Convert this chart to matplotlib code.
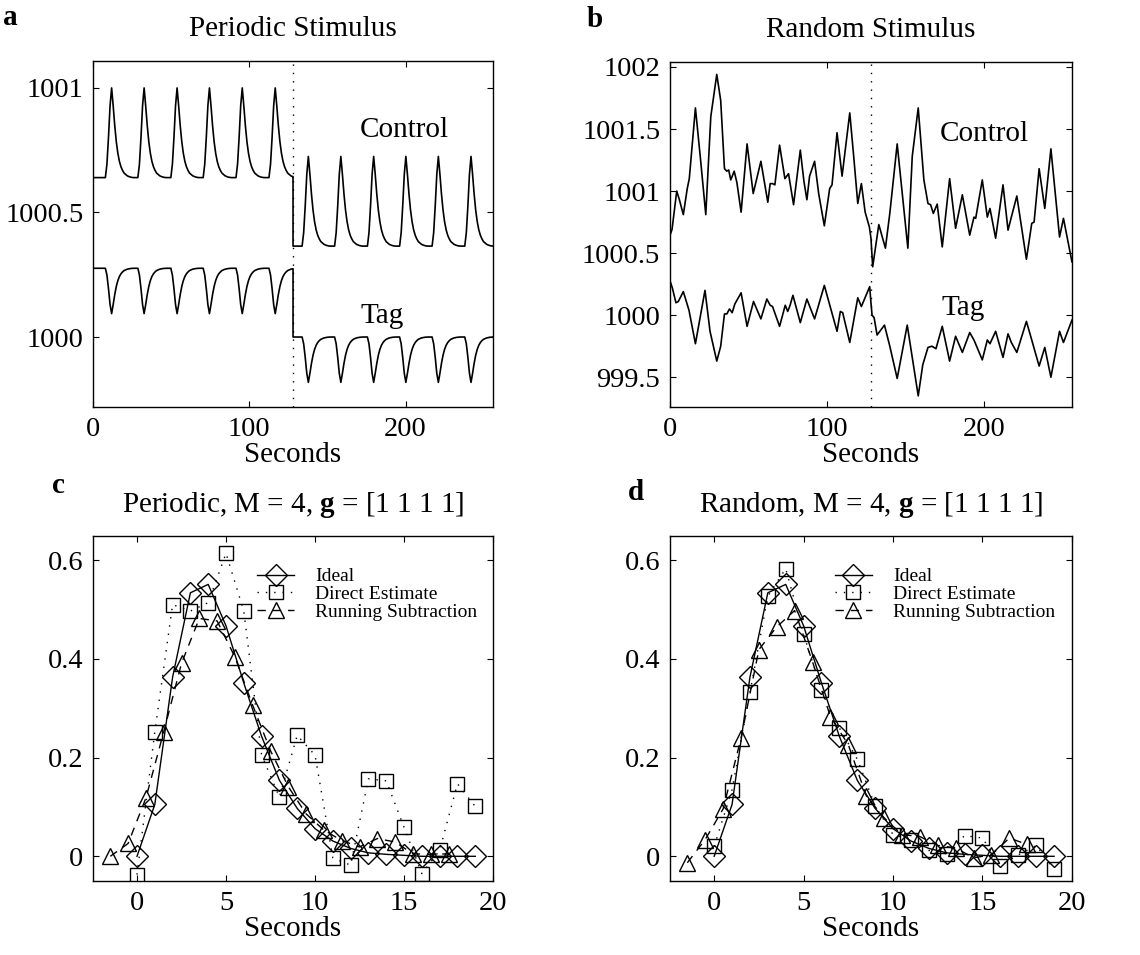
import numpy as np
import matplotlib
matplotlib.use("Agg")
import matplotlib.pyplot as plt

plt.rcParams['font.family'] = ['Liberation Serif', 'DejaVu Serif']
plt.rcParams['mathtext.fontset'] = 'custom'
plt.rcParams['mathtext.rm'] = 'Liberation Serif'
plt.rcParams['mathtext.bf'] = 'Liberation Serif:bold'

# ---- panel a: periodic stimulus, one response shape repeated at each onset
pulse_shape = [0.0, 0.15, 0.45, 0.8, 1.0, 0.8, 0.58, 0.4, 0.27, 0.18, 0.12,
               0.08, 0.05, 0.035, 0.02, 0.012, 0.006, 0.002, 0.0]
onsets_1 = [7.9, 28.7, 49.8, 70.5, 91.5, 112.6]
onsets_2 = [133.8, 154.6, 175.6, 196.2, 217.0, 237.9]
ctrl_base = [1000.64, 1000.365]
ctrl_amp = 0.36
tag_base = [1000.276, 1000.0]
tag_amp = -0.182
split_t = 128.0
t_end = 256.0

# ---- panel b: random stimulus
rb_t = [0, 1.3, 4.3, 6.0, 8.5, 11.0, 12.3, 16.2, 19.5, 22.8, 26.0, 29.8, 32.3,
        34.7, 36.2, 37.4, 38.7, 40.9, 42.6, 45.3, 49.1, 53.0, 57.9, 62.3, 63.8,
        65.3, 66.8, 69.8, 73.2, 75.5, 78.7, 83.0, 85.3, 87.2, 88.9, 92.1, 94.7,
        98.3, 101.7, 103.2, 106.4, 109.6, 114.5, 117.0, 119.6, 121.9, 124.3,
        127.0, 128.0, 129.1, 133.0, 137.2, 140.0, 144.7, 151.5, 154.3, 158.1,
        161.7, 164.3, 166.0, 167.7, 170.2, 173.4, 178.1, 181.9, 186.2, 190.9,
        193.6, 194.7, 198.9, 202.1, 203.8, 207.4, 212.1, 215.3, 217.4, 220.9,
        227.0, 230.4, 231.9, 235.1, 238.7, 242.6, 248.1, 250.6, 256.0]
rb_ctrl = [1000.645, 1000.69, 1001.00, 1000.93, 1000.81, 1001.02, 1001.10,
           1001.67, 1001.25, 1000.81, 1001.60, 1001.94, 1001.73, 1001.18,
           1001.16, 1001.17, 1001.09, 1001.16, 1001.07, 1000.83, 1001.38,
           1000.98, 1001.24, 1000.91, 1001.06, 1001.06, 1001.05, 1001.37,
           1001.10, 1001.14, 1000.89, 1001.33, 1001.08, 1000.93, 1001.12,
           1001.24, 1000.98, 1000.72, 1001.02, 1001.05, 1001.47, 1001.12,
           1001.63, 1001.28, 1000.90, 1001.06, 1000.83, 1000.71, 1000.62,
           1000.39, 1000.73, 1000.54, 1000.82, 1001.38, 1000.54, 1001.28,
           1001.67, 1001.09, 1000.90, 1000.89, 1000.82, 1000.895, 1000.55,
           1001.10, 1000.70, 1000.97, 1000.645, 1000.79, 1000.78, 1001.09,
           1000.79, 1000.86, 1000.62, 1001.05, 1000.685, 1000.79, 1000.96,
           1000.45, 1000.74, 1000.75, 1001.18, 1000.86, 1001.34, 1000.63,
           1000.78, 1000.43]
rb_tag_t = [0, 1.5, 3.8, 5.3, 8.5, 12.1, 16.2, 22.3, 25.5, 29.8, 32.3, 34.7,
            36.2, 37.9, 39.6, 41.3, 45.3, 49.1, 53.2, 57.9, 61.7, 63.8, 65.3,
            69.8, 73.4, 75.0, 76.5, 78.3, 83.0, 87.2, 89.0, 92.1, 98.3, 102.0,
            106.4, 108.5, 110.0, 114.5, 119.6, 121.9, 127.2, 128.0, 128.7,
            130.0, 131.9, 136.6, 140.0, 144.7, 151.1, 158.1, 161.0, 164.3,
            166.8, 169.4, 173.4, 178.1, 181.9, 186.2, 190.9, 193.6, 198.9,
            202.1, 203.8, 207.4, 212.1, 215.3, 217.4, 220.9, 227.0, 230.4,
            235.1, 238.7, 242.6, 248.1, 250.6, 256.0]
rb_tag = [1000.277, 1000.22, 1000.10, 1000.11, 1000.19, 1000.04, 999.77,
          1000.20, 999.87, 999.63, 999.75, 1000.01, 1000.01, 1000.05, 1000.02,
          1000.09, 1000.18, 999.91, 1000.11, 999.97, 1000.13, 1000.08, 1000.07,
          999.91, 1000.08, 1000.03, 1000.08, 1000.16, 999.94, 1000.13, 1000.07,
          999.97, 1000.24, 1000.07, 999.87, 1000.03, 1000.02, 999.78, 1000.14,
          1000.07, 1000.23, 1000.10, 1000.0, 999.98, 999.84, 999.92, 999.75,
          999.49, 999.92, 999.35, 999.60, 999.74, 999.75, 999.73, 999.91,
          999.63, 999.83, 999.70, 999.86, 999.80, 999.64, 999.80, 999.77,
          999.87, 999.66, 999.85, 999.78, 999.70, 999.95, 999.80, 999.59,
          999.74, 999.50, 999.87, 999.78, 999.96]

# ---- panels c, d: response estimates
t_ideal = list(range(0, 20))
t_running = [x - 1.5 for x in range(0, 20)]
ideal = [0.0, 0.105, 0.363, 0.534, 0.551, 0.467, 0.351, 0.243, 0.154, 0.097,
         0.056, 0.031, 0.016, 0.007, 0.004, 0.002, 0.0, 0.0, 0.0, 0.0]
direct_c = [-0.037, 0.252, 0.510, 0.497, 0.514, 0.614, 0.497, 0.205, 0.120,
            0.245, 0.205, -0.003, -0.018, 0.157, 0.153, 0.059, -0.035, 0.012,
            0.147, 0.101]
running_c = [0.0, 0.026, 0.118, 0.252, 0.391, 0.482, 0.477, 0.404, 0.306,
             0.214, 0.141, 0.086, 0.053, 0.032, 0.019, 0.036, 0.029, 0.005,
             0.004, 0.005]
direct_d = [0.02, 0.135, 0.332, 0.527, 0.583, 0.45, 0.337, 0.26, 0.197, 0.102,
            0.044, 0.034, 0.012, 0.005, 0.042, 0.037, -0.019, 0.003, 0.022,
            -0.026]
running_d = [-0.013, 0.034, 0.096, 0.239, 0.419, 0.465, 0.498, 0.394, 0.283,
             0.226, 0.123, 0.078, 0.044, 0.04, 0.022, 0.017, -0.003, 0.003,
             0.037, 0.024]


def pulse_train(onsets, base, amp, t0, t1):
    t = [t0]
    v = [base]
    for on in onsets:
        for k, s in enumerate(pulse_shape):
            if t0 <= on + k <= t1:
                t.append(on + k)
                v.append(base + amp * s)
    t.append(t1)
    v.append(v[-1])
    return t, v


def two_halves(base, amp):
    t1, v1 = pulse_train(onsets_1, base[0], amp, 0.0, split_t)
    t2, v2 = pulse_train(onsets_2, base[1], amp, split_t, t_end)
    return t1 + t2, v1 + v2


FS = 20.5
FT = 21
fig = plt.figure(figsize=(11.4, 9.55), dpi=100)
ax_a = fig.add_axes([0.0816, 0.5738, 0.3509, 0.3623])
ax_b = fig.add_axes([0.5877, 0.5738, 0.3526, 0.3613])
ax_c = fig.add_axes([0.0816, 0.0775, 0.3509, 0.3612])
ax_d = fig.add_axes([0.5877, 0.0775, 0.3526, 0.3612])

for ax in (ax_a, ax_b, ax_c, ax_d):
    ax.tick_params(direction='in', top=True, right=True, length=4,
                   labelsize=FS, pad=7, width=0.8)
    for s in ax.spines.values():
        s.set_linewidth(1.0)
    ax.set_xlabel('Seconds', fontsize=FT, labelpad=0)

# a
tc, vc = two_halves(ctrl_base, ctrl_amp)
tt, vt = two_halves(tag_base, tag_amp)
ax_a.plot(tc, vc, color='k', lw=1.2)
ax_a.plot(tt, vt, color='k', lw=1.2)
ax_a.axvline(split_t, color='k', lw=1.0, ls=(0, (1, 5)))
ax_a.set_xlim(0, 256)
ax_a.set_ylim(999.719, 1001.108)
ax_a.set_xticks([0, 100, 200])
ax_a.set_yticks([1000, 1000.5, 1001])
ax_a.set_yticklabels(['1000', '1000.5', '1001'])
ax_a.text(171, 1000.804, 'Control', fontsize=FT)
ax_a.text(171, 1000.055, 'Tag', fontsize=FT)
ax_a.set_title('Periodic Stimulus', fontsize=FT, pad=18)

# b
ax_b.plot(rb_t, rb_ctrl, color='k', lw=1.2)
ax_b.plot(rb_tag_t, rb_tag, color='k', lw=1.2)
ax_b.axvline(split_t, color='k', lw=1.0, ls=(0, (1, 5)))
ax_b.set_xlim(0, 256)
ax_b.set_ylim(999.26, 1002.04)
ax_b.set_xticks([0, 100, 200])
ax_b.set_yticks([999.5, 1000, 1000.5, 1001, 1001.5, 1002])
ax_b.set_yticklabels(['999.5', '1000', '1000.5', '1001', '1001.5', '1002'])
ax_b.text(172, 1001.40, 'Control', fontsize=FT)
ax_b.text(173, 1000.0, 'Tag', fontsize=FT)
ax_b.set_title('Random Stimulus', fontsize=FT, pad=18)

# c, d
for ax, direct, running, name in ((ax_c, direct_c, running_c, 'Periodic'),
                                  (ax_d, direct_d, running_d, 'Random')):
    ax.plot(t_ideal, ideal, color='k', lw=1.0, marker='D', ms=11,
            mfc='none', mec='k', mew=1.0, label='Ideal')
    ax.plot(t_ideal, direct, color='k', lw=1.0, ls=(0, (1, 5)), marker='s',
            ms=10, mfc='none', mec='k', mew=1.0, label='Direct Estimate')
    ax.plot(t_running, running, color='k', lw=1.0, ls=(0, (6, 5)), marker='^',
            ms=12, mfc='none', mec='k', mew=1.0, label='Running Subtraction')
    ax.set_xlim(-2.47, 20)
    ax.set_ylim(-0.05, 0.649)
    ax.set_xticks([0, 5, 10, 15, 20])
    ax.set_yticks([0, 0.2, 0.4, 0.6])
    ax.set_yticklabels(['0', '0.2', '0.4', '0.6'])
    ax.set_title(name + r', M = 4, $\mathbf{g}$ = [1 1 1 1]', fontsize=FT,
                 pad=17)
    ax.legend(loc='upper left', bbox_to_anchor=(0.41, 0.908), frameon=False,
              fontsize=14, handlelength=1.9, handletextpad=1.1,
              labelspacing=0.0, borderpad=0, borderaxespad=0)

fig.text(0.003, 0.974, 'a', fontsize=FT, fontweight='bold')
fig.text(0.515, 0.972, 'b', fontsize=FT, fontweight='bold')
fig.text(0.046, 0.484, 'c', fontsize=FT, fontweight='bold')
fig.text(0.551, 0.476, 'd', fontsize=FT, fontweight='bold')

fig.savefig('out.png', dpi=100)
